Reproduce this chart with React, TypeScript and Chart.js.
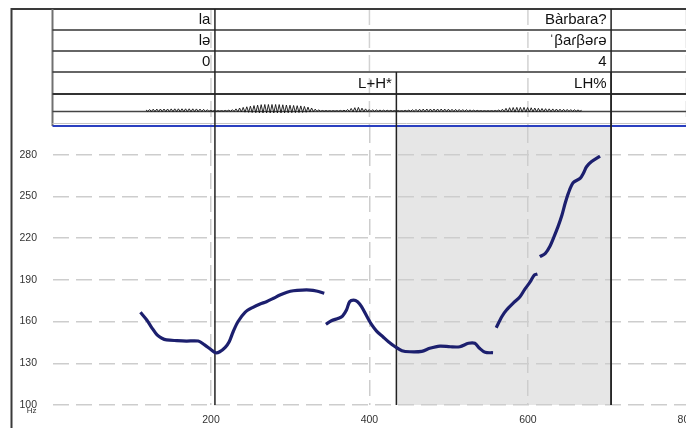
import React, { useEffect, useRef } from "react";
import { Chart, registerables } from "chart.js";

Chart.register(...registerables);

// ---- data ----
const xTicks = [200, 400, 600, 800];
const yTicks = [100, 130, 160, 190, 220, 250, 280];

const seg1Time = [111, 119, 125, 132, 138, 144, 157, 169, 184, 192, 199, 206, 211, 218, 223, 228, 234, 243, 253, 262, 270, 279, 287, 296, 304, 315, 325, 333, 343];
const seg1Hz = [166.7, 161.2, 155.9, 150.4, 148.0, 146.8, 146.3, 146.0, 146.0, 143.2, 140.3, 137.6, 138.3, 141.5, 145.5, 152.7, 159.9, 166.7, 170.3, 172.7, 174.3, 176.8, 179.1, 181.1, 182.2, 182.7, 182.7, 182.0, 180.4];
const seg2Time = [345, 352, 361, 366, 371, 375, 380, 385, 390, 397, 403, 409, 417, 424, 432, 441, 451, 466, 476, 489, 502, 514, 525, 533, 539, 546, 556];
const seg2Hz = [158.1, 160.6, 162.4, 164.0, 168.3, 174.3, 175.5, 174.3, 170.7, 163.5, 157.6, 153.2, 149.1, 145.5, 142.1, 139.1, 138.3, 138.6, 140.8, 142.4, 141.9, 141.9, 144.4, 144.4, 140.8, 137.9, 137.6];
const seg3Time = [560, 567, 573, 582, 590, 596, 603, 608, 612];
const seg3Hz = [155.6, 163.5, 168.3, 173.6, 177.9, 183.2, 188.7, 193.5, 194.2];
const seg4Time = [615, 622, 628, 633, 638, 643, 647, 651, 657, 666, 670, 674, 680, 691];
const seg4Hz = [206.7, 209.1, 214.4, 221.1, 228.3, 236.7, 245.1, 252.3, 259.9, 263.1, 266.7, 271.4, 275.0, 279.1];

const wordBounds = [205, 705];
const toneBounds = [434, 705];
const tier1Labels = ["la", "Bàrbara?"];
const tier2Labels = ["lə", "ˈβaɾβəɾə"];
const tier3Labels = ["0", "4"];
const tier4Labels = ["L+H*", "LH%"];
const shadeRange = [434, 705];

const waveTime = [118, 125, 135, 145, 155, 165, 175, 185, 192, 200, 210, 220, 228, 235, 245, 255, 265, 275, 285, 295, 305, 315, 325, 333, 340, 350, 360, 370, 378, 385, 392, 400, 410, 420, 430, 440, 450, 460, 470, 480, 490, 500, 510, 520, 530, 540, 550, 560, 568, 575, 585, 595, 605, 615, 625, 635, 645, 655, 665, 670];
const waveAmp = [1.0, 1.8, 2.0, 2.0, 2.2, 2.2, 2.2, 2.0, 1.6, 0.6, 0.3, 0.6, 1.4, 2.8, 4.2, 5.5, 6.5, 6.5, 6.5, 6, 5.5, 5, 3.5, 1.5, 0.5, 0.4, 0.4, 0.9, 2.8, 3.8, 2.6, 1.4, 1.0, 0.8, 0.5, 0.3, 0.9, 1.7, 2.0, 2.0, 2.0, 1.8, 1.6, 1.4, 0.9, 0.4, 0.3, 0.5, 1.8, 3.2, 3.6, 3.6, 3.2, 2.6, 2.2, 2.0, 1.7, 1.4, 1.0, 0.4];

const FONT = '"Liberation Sans", Arial, sans-serif';

function buildPoints() {
  const segs = [
    [seg1Time, seg1Hz],
    [seg2Time, seg2Hz],
    [seg3Time, seg3Hz],
    [seg4Time, seg4Hz],
  ];
  const pts: { x: number; y: number | null }[] = [];
  segs.forEach(([t, h], i) => {
    if (i > 0) pts.push({ x: t[0] - 1, y: null });
    t.forEach((tv, j) => pts.push({ x: tv, y: h[j] }));
  });
  return pts;
}

const praatPlugin = {
  id: "praat",
  beforeDraw(chart: any) {
    const { ctx, chartArea: ca, scales } = chart;
    const x = scales.x;
    ctx.save();
    const s0 = x.getPixelForValue(shadeRange[0]);
    const s1 = x.getPixelForValue(shadeRange[1]);
    ctx.fillStyle = "#e6e6e6";
    ctx.fillRect(s0, ca.top, s1 - s0, ca.bottom - ca.top);
    ctx.restore();
  },
  beforeDatasetsDraw(chart: any) {
    const { ctx, chartArea: ca, scales, width, height } = chart;
    const x = scales.x;
    const left = ca.left;
    ctx.save();

    // vertical dashed grid through the table
    ctx.strokeStyle = "#d2d2d2";
    ctx.lineWidth = 1.5;
    ctx.setLineDash([16, 7]);
    xTicks.forEach((v) => {
      const px = x.getPixelForValue(v);
      ctx.beginPath();
      ctx.moveTo(px, 9);
      ctx.lineTo(px, ca.top);
      ctx.stroke();
    });
    ctx.setLineDash([]);

    // frame
    ctx.strokeStyle = "#3a3a3a";
    ctx.lineWidth = 2;
    ctx.beginPath();
    ctx.moveTo(11.5, height);
    ctx.lineTo(11.5, 9);
    ctx.lineTo(width, 9);
    ctx.stroke();

    // table left edge
    ctx.strokeStyle = "#707070";
    ctx.lineWidth = 2;
    ctx.beginPath();
    ctx.moveTo(left, 9);
    ctx.lineTo(left, ca.top - 1);
    ctx.stroke();

    // row lines
    ctx.strokeStyle = "#333";
    [30, 51, 72].forEach((y) => {
      ctx.lineWidth = 1.6;
      ctx.beginPath();
      ctx.moveTo(left, y);
      ctx.lineTo(width, y);
      ctx.stroke();
    });
    ctx.lineWidth = 2.2;
    ctx.beginPath();
    ctx.moveTo(left, 94);
    ctx.lineTo(width, 94);
    ctx.stroke();
    ctx.strokeStyle = "#444";
    ctx.lineWidth = 1.5;
    ctx.beginPath();
    ctx.moveTo(left, 111.5);
    ctx.lineTo(width, 111.5);
    ctx.stroke();
    ctx.strokeStyle = "#c4c4c4";
    ctx.lineWidth = 1;
    ctx.beginPath();
    ctx.moveTo(left, 123.5);
    ctx.lineTo(width, 123.5);
    ctx.stroke();
    ctx.strokeStyle = "#2a3fc0";
    ctx.lineWidth = 2;
    ctx.beginPath();
    ctx.moveTo(left, 126);
    ctx.lineTo(width, 126);
    ctx.stroke();

    // waveform
    const base = 111;
    const wx0 = x.getPixelForValue(waveTime[0]);
    const wx1 = x.getPixelForValue(waveTime[waveTime.length - 1]);
    ctx.strokeStyle = "#111";
    ctx.lineWidth = 0.9;
    ctx.beginPath();
    let k = 0;
    for (let px = wx0; px <= wx1; px += 1.8, k++) {
      const t = x.getValueForPixel(px);
      let a = 0;
      for (let i = 0; i < waveTime.length - 1; i++) {
        if (t >= waveTime[i] && t <= waveTime[i + 1]) {
          const f = (t - waveTime[i]) / (waveTime[i + 1] - waveTime[i]);
          a = waveAmp[i] + f * (waveAmp[i + 1] - waveAmp[i]);
          break;
        }
      }
      const y = k % 2 === 0 ? base - a : base + a * 0.3;
      if (k === 0) ctx.moveTo(px, y);
      else ctx.lineTo(px, y);
    }
    ctx.stroke();

    // boundaries
    ctx.strokeStyle = "#222";
    ctx.lineWidth = 1.5;
    wordBounds.forEach((v) => {
      const px = x.getPixelForValue(v);
      ctx.beginPath();
      ctx.moveTo(px, 9);
      ctx.lineTo(px, ca.bottom);
      ctx.stroke();
    });
    toneBounds.forEach((v) => {
      const px = x.getPixelForValue(v);
      ctx.beginPath();
      ctx.moveTo(px, 72);
      ctx.lineTo(px, ca.bottom);
      ctx.stroke();
    });

    // texts
    ctx.fillStyle = "#111";
    ctx.font = `15px ${FONT}`;
    ctx.textAlign = "right";
    ctx.textBaseline = "middle";
    const put = (labels: string[], bounds: number[], yc: number) => {
      labels.forEach((s, i) => {
        ctx.fillText(s, x.getPixelForValue(bounds[i]) - 4.5, yc);
      });
    };
    put(tier1Labels, wordBounds, 20);
    put(tier2Labels, wordBounds, 41);
    put(tier3Labels, wordBounds, 62);
    put(tier4Labels, toneBounds, 83.5);

    // Hz unit label
    ctx.fillStyle = "#333";
    ctx.font = `8px ${FONT}`;
    ctx.fillText("Hz", 36.5, 410.5);
    ctx.restore();
  },
};

export default function App() {
  const ref = useRef<HTMLCanvasElement | null>(null);
  useEffect(() => {
    if (!ref.current) return;
    const chart = new Chart(ref.current, {
      type: "line",
      data: {
        datasets: [
          {
            data: buildPoints() as any,
            borderColor: "#1c1f6e",
            backgroundColor: "#1c1f6e",
            borderWidth: 3.2,
            pointRadius: 0,
            tension: 0.3,
            spanGaps: false,
            fill: false,
          },
        ],
      },
      options: {
        animation: false,
        responsive: false,
        devicePixelRatio: 1,
        layout: { padding: { top: 127, right: 34, left: 0, bottom: 0 } },
        plugins: { legend: { display: false }, tooltip: { enabled: false } },
        scales: {
          x: {
            type: "linear",
            min: 0,
            max: 850,
            afterBuildTicks: (s: any) => {
              s.ticks = xTicks.map((v) => ({ value: v }));
            },
            afterFit: (s: any) => {
              s.height = 23;
            },
            grid: { color: "#cdcdcd", lineWidth: 1.5, drawTicks: false },
            border: { display: false, dash: [16, 7] },
            ticks: {
              padding: 8.5,
              color: "#333",
              font: { size: 10.5, family: FONT },
              maxRotation: 0,
              autoSkip: false,
            },
          },
          y: {
            type: "linear",
            min: 100,
            max: 300,
            afterBuildTicks: (s: any) => {
              s.ticks = yTicks.map((v) => ({ value: v }));
            },
            afterFit: (s: any) => {
              s.width = 52.5;
            },
            grid: { color: "#cdcdcd", lineWidth: 1.5, drawTicks: false },
            border: { display: false, dash: [16, 7] },
            ticks: {
              padding: 15.5,
              color: "#333",
              font: { size: 10.5, family: FONT },
              autoSkip: false,
            },
          },
        },
      } as any,
      plugins: [praatPlugin],
    });
    return () => chart.destroy();
  }, []);
  return (
    <div
      style={{
        position: "fixed",
        left: 0,
        top: 0,
        width: 686,
        height: 428,
        overflow: "hidden",
        background: "#fff",
      }}
    >
      <canvas ref={ref} width={760} height={428} style={{ display: "block", width: 760, height: 428 }} />
    </div>
  );
}
